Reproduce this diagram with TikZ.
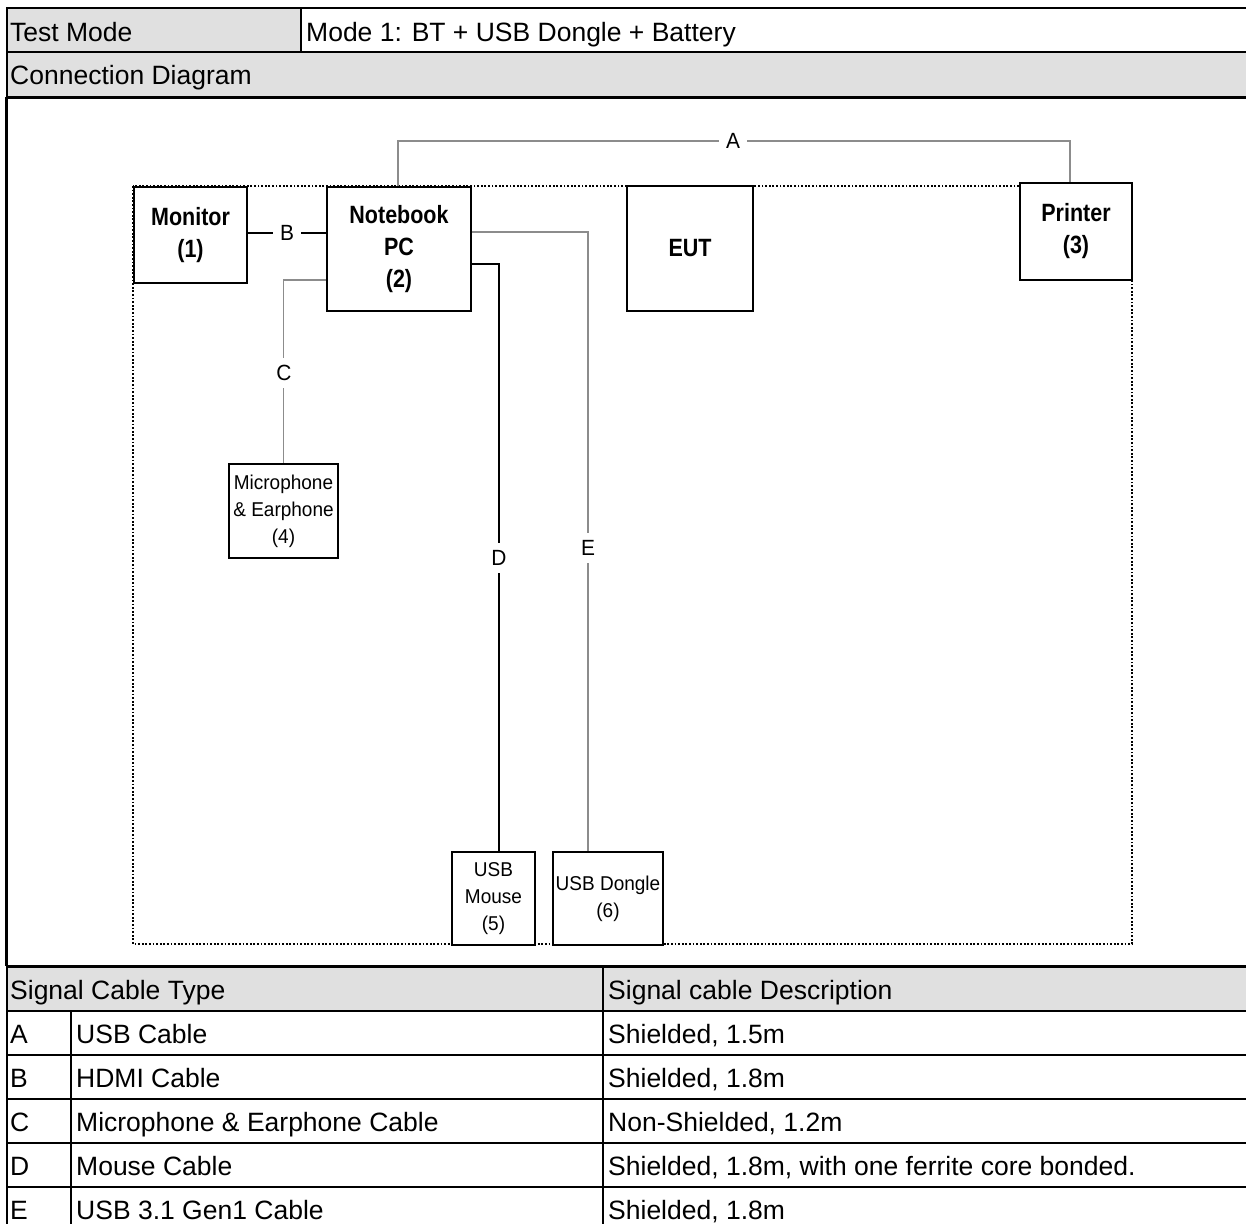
\documentclass[tikz,border=0pt]{standalone}
\usepackage{fontspec}
\setmainfont{Liberation Sans}
\newfontfamily\bxfont[FakeStretch=0.86]{Liberation Sans}
\newfontfamily\smfont[FakeStretch=0.95]{Liberation Sans}
\definecolor{cellgrey}{RGB}{224,224,224}
\definecolor{cabgrey}{RGB}{140,140,140}
\begin{document}
\begin{tikzpicture}[x=1pt,y=-1pt,
  tbl/.style={line width=2pt},
  ttext/.style={anchor=base west, inner sep=0pt, font=\fontsize{26.5}{30}\selectfont},
  devbox/.style={draw, line width=2.5pt, fill=white, inner sep=0pt, align=center, font=\bxfont\bfseries\fontsize{25}{32}\selectfont},
  smallbox/.style={draw, line width=2.5pt, fill=white, inner sep=0pt, align=center, font=\smfont\fontsize{20}{27}\selectfont},
  cab/.style={line width=1.5pt},
  gcab/.style={line width=1.5pt, draw=cabgrey},
  lab/.style={fill=white, inner sep=7pt, font=\smfont\fontsize{22}{24}\selectfont}]
\useasboundingbox (0,0) rectangle (1246,1224);
% cell fills
\fill[cellgrey] (7,8) rectangle (301,52);
\fill[cellgrey] (7,52) rectangle (1246,97);
\fill[cellgrey] (7,966) rectangle (1246,1011);
% table lines
\draw[tbl] (7,8) -- (1246,8);
\draw[tbl] (7,52) -- (1246,52);
\draw[line width=3pt] (7,97) -- (1246,97);
\draw[line width=3pt] (7,966) -- (1246,966);
\draw[tbl] (7,1011) -- (1246,1011);
\draw[tbl] (7,1055) -- (1246,1055);
\draw[tbl] (7,1099) -- (1246,1099);
\draw[tbl] (7,1143) -- (1246,1143);
\draw[tbl] (7,1187) -- (1246,1187);
\draw[tbl] (7,7) -- (7,97);
\draw[line width=3pt] (6.5,97) -- (6.5,966);
\draw[tbl] (7,966) -- (7,1224);
\draw[tbl] (301,8) -- (301,52);
\draw[tbl] (71,1011) -- (71,1224);
\draw[tbl] (603,966) -- (603,1224);
% table texts
\node[ttext] (t1) at (10,41) {Test Mode};
\node[ttext] (t2) at (306,41) {Mode 1: BT + USB Dongle + Battery};
\node[ttext] (t3) at (10,84) {Connection Diagram};
\node[ttext] (h1) at (10,999) {Signal Cable Type};
\node[ttext] (h2) at (608,999) {Signal cable Description};
\node[ttext] (ra) at (10,1043) {A};
\node[ttext] (rat) at (76,1043) {USB Cable};
\node[ttext] (rad) at (608,1043) {Shielded, 1.5m};
\node[ttext] (rb) at (10,1087) {B};
\node[ttext] (rbt) at (76,1087) {HDMI Cable};
\node[ttext] (rbd) at (608,1087) {Shielded, 1.8m};
\node[ttext] (rc) at (10,1131) {C};
\node[ttext] (rct) at (76,1131) {Microphone \& Earphone Cable};
\node[ttext] (rcd) at (608,1131) {Non-Shielded, 1.2m};
\node[ttext] (rd) at (10,1175) {D};
\node[ttext] (rdt) at (76,1175) {Mouse Cable};
\node[ttext] (rdd) at (608,1175) {Shielded, 1.8m, with one ferrite core bonded.};
\node[ttext] (re) at (10,1219) {E};
\node[ttext] (ret) at (76,1219) {USB 3.1 Gen1 Cable};
\node[ttext] (red) at (608,1219) {Shielded, 1.8m};
% dotted frame
\draw[line width=2.5pt, dash pattern=on 1.8pt off 1.8pt] (133,186) rectangle (1132,944);
% devices
\node[devbox, minimum width=113pt, minimum height=96pt] (mon) at (190.5,235) {Monitor\\(1)};
\node[devbox, minimum width=144pt, minimum height=124pt] (nb) at (399,249) {Notebook\\PC\\(2)};
\node[devbox, minimum width=126pt, minimum height=125pt] (eut) at (690,248.5) {EUT};
\node[devbox, minimum width=112pt, minimum height=97pt] (pr) at (1076,231.5) {Printer\\(3)};
\node[smallbox, minimum width=109pt, minimum height=94pt] (mic) at (283.5,511) {Microphone\\\& Earphone\\(4)};
\node[smallbox, minimum width=83pt, minimum height=93pt] (mouse) at (493.5,898.5) {USB\\Mouse\\(5)};
\node[smallbox, minimum width=110pt, minimum height=93pt] (dong) at (608,898.5) {USB Dongle\\(6)};
% cables
\coordinate (aR) at (1070,141);
\draw[gcab] ([xshift=-1pt]nb.north) |- (aR) -- ([xshift=-6pt]pr.north);
\draw[cab] ([yshift=2pt]mon.east) -- ([yshift=2pt]mon.east -| nb.west);
\draw[gcab] ([yshift=-31pt]nb.west) -| (mic.north);
\draw[cab] ([yshift=-15pt]nb.east) -| ([xshift=5.5pt]mouse.north);
\draw[gcab] ([yshift=17pt]nb.east) -| ([xshift=-20pt]dong.north);
% cable labels
\node[lab] (la) at (733,141) {A};
\node[lab] (lb) at (287,233) {B};
\node[lab] (lc) at (284,373) {C};
\node[lab] (ld) at (499,558) {D};
\node[lab] (le) at (588,548) {E};
\end{tikzpicture}
\end{document}
